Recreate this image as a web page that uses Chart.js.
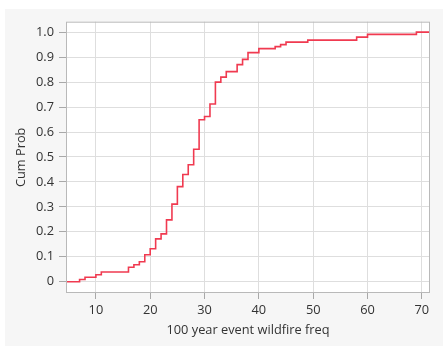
<!DOCTYPE html>
<html>
<head>
<meta charset="utf-8">
<script src="https://cdn.jsdelivr.net/npm/chart.js@4"></script>
<style>
  html, body { margin: 0; padding: 0; background: #ffffff; }
  #panel {
    position: absolute; left: 5px; top: 9px;
    width: 438px; height: 337px;
    background: #f6f6f6;
  }
</style>
</head>
<body>
<div id="panel"><canvas id="cdf" width="438" height="337"></canvas></div>
<script>
// wildfire frequency values where the empirical CDF steps up
const freqValues = [7, 8, 10, 11, 16, 17, 18, 19, 20, 21, 22, 23, 24, 25, 26, 27, 28, 29, 30, 31, 32, 33, 34, 36, 37, 38, 40, 43, 44, 45, 49, 58, 60, 69]
// cumulative probability reached at each of those values
const cumProb = [0.009, 0.018, 0.028, 0.039, 0.058, 0.068, 0.08, 0.108, 0.132, 0.172, 0.192, 0.248, 0.311, 0.381, 0.430, 0.469, 0.531, 0.649, 0.662, 0.712, 0.80, 0.82, 0.842, 0.870, 0.891, 0.918, 0.934, 0.942, 0.950, 0.960, 0.968, 0.980, 0.991, 1.0]
const xTicks = [10, 20, 30, 40, 50, 60, 70]
const yTicks = [0, 0.1, 0.2, 0.3, 0.4, 0.5, 0.6, 0.7, 0.8, 0.9, 1.0]

const X_MIN = 4.5, X_MAX = 71.5
const Y_MIN = -0.045, Y_MAX = 1.042

// step line runs from the left edge at 0 to the right edge at 1
const points = [{ x: X_MIN, y: 0 }]
freqValues.forEach((v, i) => points.push({ x: v, y: cumProb[i] }))
points.push({ x: X_MAX, y: cumProb[cumProb.length - 1] })

const textColor = "#333333"
const font = { family: "'Open Sans', 'Noto Sans', sans-serif", size: 12.8 }

const plotFrame = {
    id: "plotFrame",
    beforeDraw(chart) {
        const { ctx, chartArea: a } = chart
        ctx.save()
        ctx.fillStyle = "#ffffff"
        ctx.fillRect(a.left, a.top, a.right - a.left, a.bottom - a.top)
        ctx.restore()
    },
    afterDraw(chart) {
        const { ctx, chartArea: a } = chart
        ctx.save()
        ctx.strokeStyle = "#b9b9b9"
        ctx.lineWidth = 1
        ctx.strokeRect(a.left + 0.5, a.top + 0.5, a.right - a.left - 1, a.bottom - a.top - 1)
        ctx.restore()
    }
}

window.addEventListener("load", () => {
    const ctx = document.getElementById("cdf")
    new Chart(ctx, {
        type: "line",
        data: {
            datasets: [{
                data: points,
                stepped: "before",
                borderColor: "rgb(240, 58, 80)",
                borderWidth: 1.6,
                pointRadius: 0,
                fill: false
            }]
        },
        options: {
            responsive: false,
            animation: false,
            layout: { padding: { top: 10, right: 13, left: 0, bottom: 0 } },
            plugins: {
                legend: { display: false },
                tooltip: { enabled: false }
            },
            scales: {
                x: {
                    type: "linear",
                    min: X_MIN,
                    max: X_MAX,
                    afterFit: s => { s.height = 53 },
                    afterBuildTicks: s => { s.ticks = xTicks.map(v => ({ value: v })) },
                    grid: { color: "#dedede", lineWidth: 1, tickLength: 6, tickColor: "#a8a8a8" },
                    border: { display: false },
                    ticks: { color: textColor, font: font, padding: 4, maxRotation: 0 },
                    title: { display: true, text: "100 year event wildfire freq", color: textColor, font: font, padding: { top: 0, bottom: 8 } }
                },
                y: {
                    type: "linear",
                    min: Y_MIN,
                    max: Y_MAX,
                    afterFit: s => { s.width = 61 },
                    afterBuildTicks: s => { s.ticks = yTicks.map(v => ({ value: v })) },
                    grid: { color: "#dedede", lineWidth: 1, tickLength: 7, tickColor: "#a8a8a8" },
                    border: { display: false },
                    ticks: {
                        color: textColor, font: font, padding: 5,
                        callback: v => v === 0 ? "0" : v.toFixed(1)
                    },
                    title: { display: true, text: "Cum Prob", color: textColor, font: font, padding: { top: 9, bottom: 0 } }
                }
            }
        },
        plugins: [plotFrame]
    })
})
</script>
</body>
</html>
